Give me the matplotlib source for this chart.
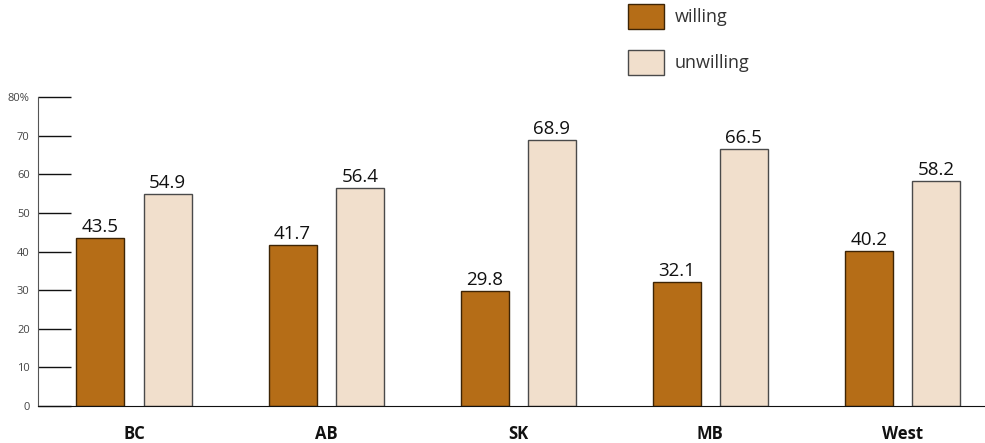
import numpy as np
import matplotlib
matplotlib.use("Agg")
import matplotlib.pyplot as plt

regions = ["BC", "AB", "SK", "MB", "West"]
willing = [43.5, 41.7, 29.8, 32.1, 40.2]
unwilling = [54.9, 56.4, 68.9, 66.5, 58.2]
yticks = [0, 10, 20, 30, 40, 50, 60, 70, 80]
ytick_labels = ["0", "10", "20", "30", "40", "50", "60", "70", "80%"]

plt.rcParams['font.family'] = ['Open Sans', 'DejaVu Sans']

fig = plt.figure(figsize=(9.85, 4.43), dpi=100)
ax = fig.add_axes([0.0386, 0.0835, 0.9614, 0.6975])

x = np.arange(len(regions))
w = 0.25
b1 = ax.bar(x - 0.175, willing, w, color="#b56d17", edgecolor="#3d2405", linewidth=1.0, label="willing")
b2 = ax.bar(x + 0.175, unwilling, w, color="#f1dfcc", edgecolor="#4a4a4a", linewidth=1.0, label="unwilling")

for bars, vals in ((b1, willing), (b2, unwilling)):
    for r, v in zip(bars, vals):
        ax.text(r.get_x() + r.get_width() / 2, v + 0.5, f"{v:.1f}", ha="center", va="bottom",
                fontsize=13.5, color="#111111")

ax.set_xlim(-0.5, 4.43)
ax.set_ylim(0, 80)
ax.set_xticks(x)
ax.set_xticklabels(regions, fontsize=12, fontweight="bold", color="#111111")
ax.tick_params(axis="x", length=0, pad=14)
ax.set_yticks(yticks)
ax.set_yticklabels(ytick_labels, fontsize=8, color="#444444")
ax.tick_params(axis="y", direction="in", length=24, width=1.0, color="#111111", pad=6)
for s in ("top", "right"):
    ax.spines[s].set_visible(False)
ax.spines["left"].set_color("#555555")
ax.spines["bottom"].set_color("#111111")

fig.legend(handles=[b1, b2], loc="upper left", bbox_to_anchor=(0.621, 1.028), frameon=False,
           fontsize=13, handlelength=2.0, handleheight=1.75, labelspacing=1.15, handletextpad=0.6,
           labelcolor="#333333")

fig.savefig("out.png", dpi=100)
